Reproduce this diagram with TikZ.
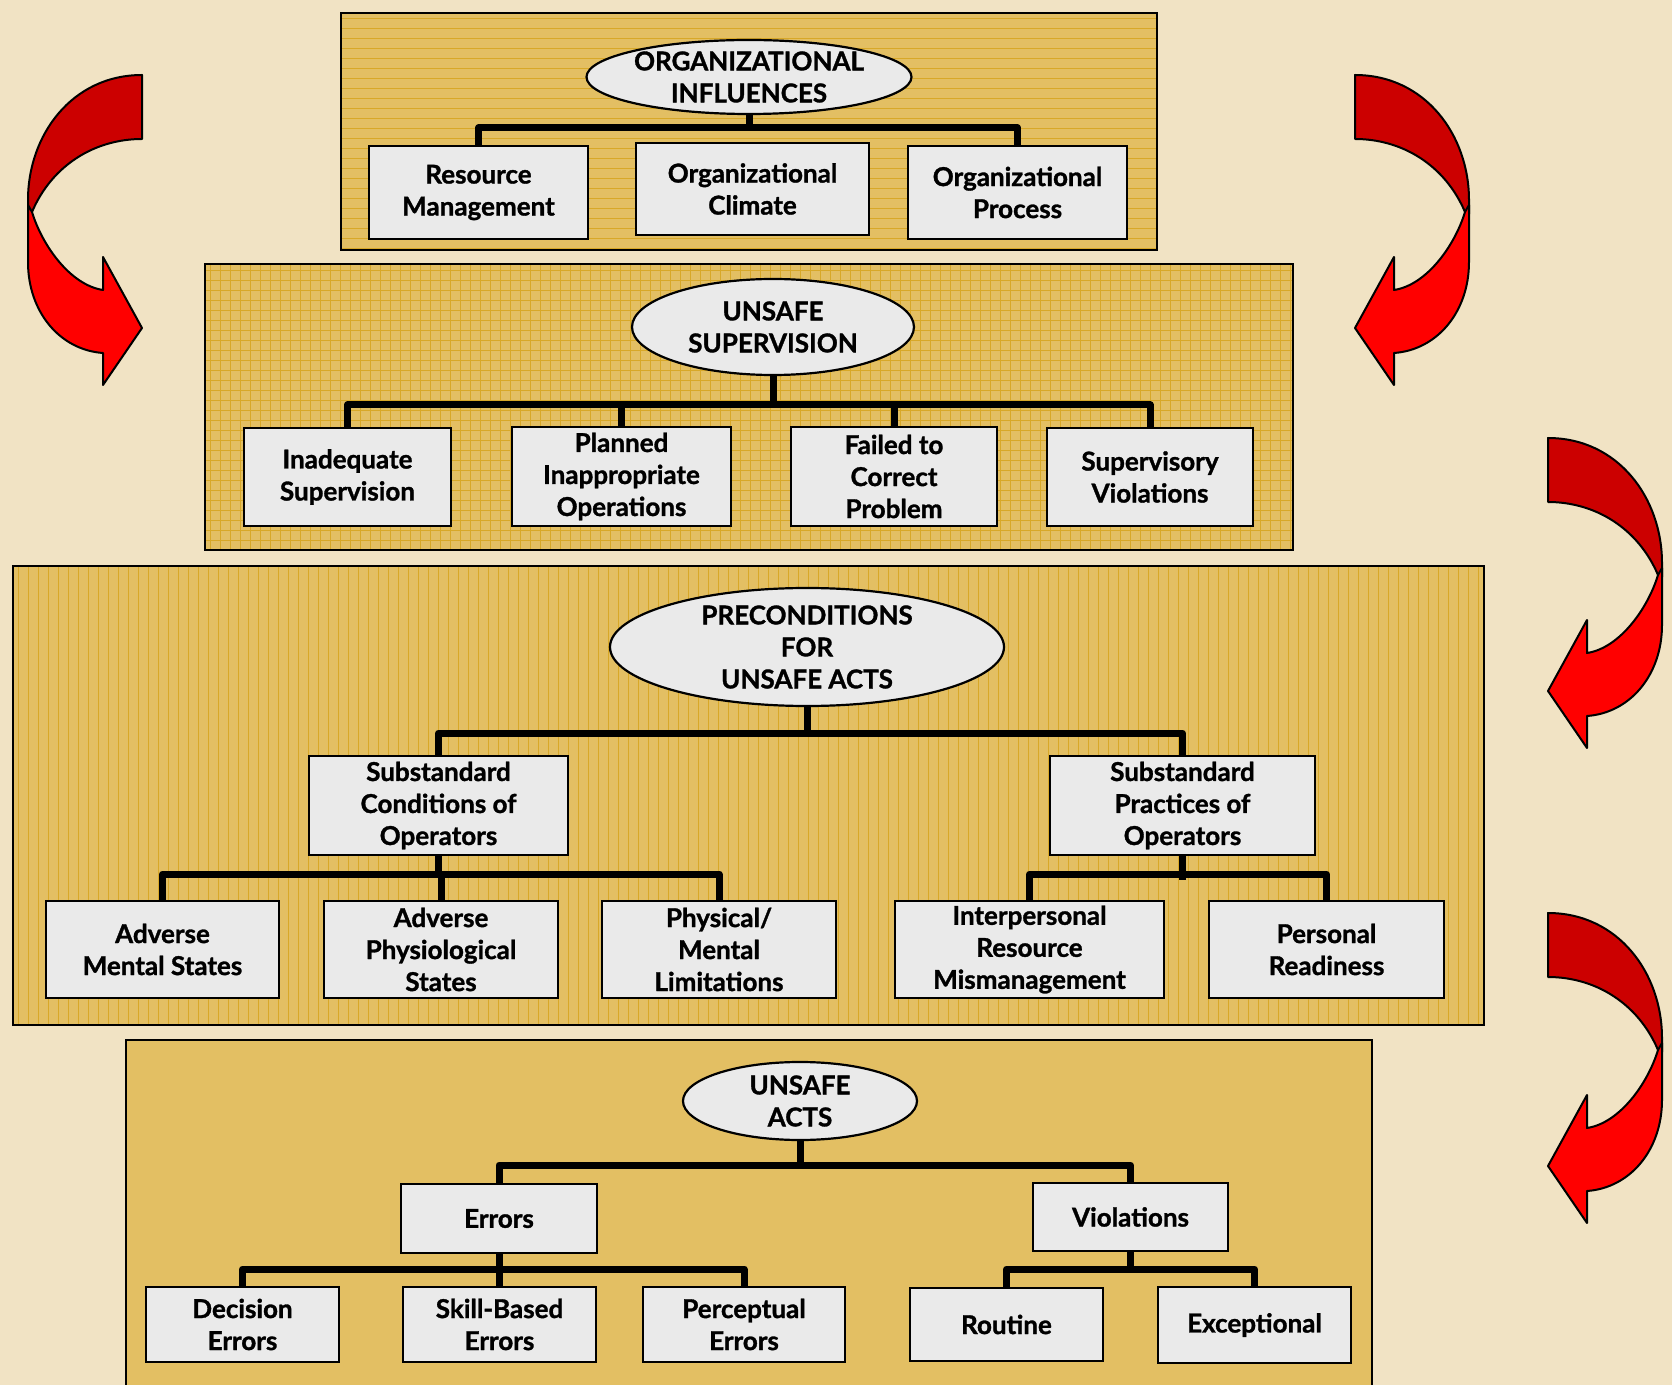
\documentclass[tikz,border=0pt]{standalone}
\usepackage{fontspec}
\setmainfont{Lato}[BoldFeatures={FakeBold=1.2}]
\usetikzlibrary{shapes.geometric,calc}
\definecolor{bgc}{HTML}{F1E3C4}
\definecolor{panelc}{HTML}{E3BF63}
\definecolor{linec}{HTML}{D8A828}
\definecolor{boxc}{HTML}{EAEAEA}
\definecolor{darkred}{HTML}{CC0000}
\definecolor{brightred}{HTML}{FF0000}
\begin{document}
\begin{tikzpicture}[x=0.5pt,y=-0.5pt,
  txt/.style={font=\fontsize{13}{16}\selectfont\bfseries, align=center, text=black},
  box/.style={txt, draw=black, fill=boxc, line width=1.1pt, inner sep=0pt},
  lower/.style={execute at begin node={\rule{0pt}{#1}}},
  oval/.style={txt, ellipse, draw=black, fill=boxc, line width=1.1pt, inner sep=0pt},
  conn/.style={draw=black, line width=3.5pt, line join=round},
  panel/.style={fill=panelc},
  panelborder/.style={draw=black, line width=1pt},
  pat/.style={draw=linec, line width=0.45pt},
  arrowline/.style={draw=black, line width=1pt, line join=round},
  pics/curvearrow/.style={code={
    \fill[darkred, arrowline] (142,75) .. controls (72,75) and (28,135) .. (28,200) -- (28,214) -- (32,212) .. controls (52,165) and (95,139) .. (142,139) -- cycle;
    \fill[brightred, arrowline] (28,205) -- (28,262) .. controls (28,312) and (60,350) .. (103,353) -- (103,385) -- (142,328) -- (103,257) -- (103,290) .. controls (70,285) and (42,245) .. (32,212) -- cycle;
  }}]
\useasboundingbox (0,0) rectangle (1672,1385);
\fill[bgc] (0,0) rectangle (1672,1385);

% ---------- panel 1 ----------
\fill[panel] (341,13) rectangle (1157,250);
\foreach \y in {18,28,...,248} \draw[pat] (341,\y) -- (1157,\y);
\draw[panelborder] (341,13) rectangle (1157,250);

% ---------- panel 2 ----------
\fill[panel] (205,264) rectangle (1293,550);
\foreach \y in {270,280,...,548} \draw[pat] (205,\y) -- (1293,\y);
\foreach \x in {210,220,...,1290} \draw[pat] (\x,264) -- (\x,550);
\draw[panelborder] (205,264) rectangle (1293,550);

% ---------- panel 3 ----------
\fill[panel] (13,566) rectangle (1484,1025);
\foreach \x in {18,28,...,1480} \draw[pat] (\x,566) -- (\x,1025);
\draw[panelborder] (13,566) rectangle (1484,1025);

% ---------- panel 4 ----------
\fill[panel] (126,1040) rectangle (1372,1400);
\draw[panelborder] (126,1400) -- (126,1040) -- (1372,1040) -- (1372,1400);

% ---------- arrows ----------
\pic[transform shape] (arrA) at (0,0) {curvearrow};
\begin{scope}[shift={(1497,0)}, xscale=-1]
  \pic[transform shape] (arrB) at (0,0) {curvearrow};
\end{scope}
\begin{scope}[shift={(1690,363)}, xscale=-1]
  \pic[transform shape] (arrC) at (0,0) {curvearrow};
\end{scope}
\begin{scope}[shift={(1690,838)}, xscale=-1]
  \pic[transform shape] (arrD) at (0,0) {curvearrow};
\end{scope}

% ---------- level 1 ----------
\node[oval, minimum width=157pt, minimum height=37pt] (oi) at (749,77) {ORGANIZATIONAL\\INFLUENCES};
\node[box, lower=20.8pt, minimum width=109.5pt, minimum height=46.5pt] (rm) at (478.5,192.5) {Resource\\Management};
\node[box, lower=20.8pt, minimum width=116.5pt, minimum height=46pt] (oc) at (752.5,189) {Organizational\\Climate};
\node[box, lower=20.8pt, minimum width=109.5pt, minimum height=46.5pt] (op) at (1017.5,192.5) {Organizational\\Process};
\coordinate (b1) at (0,128);
\draw[conn] (oi.south) -- (oi.south |- b1);
\draw[conn] (rm.north) |- (op.north |- b1) -- (op.north);

% ---------- level 2 ----------
\node[oval, minimum width=141pt, minimum height=48pt] (us) at (773,327) {UNSAFE\\SUPERVISION};
\node[box, lower=18.7pt, minimum width=103.5pt, minimum height=49pt] (is) at (347.5,477) {Inadequate\\Supervision};
\node[box, lower=18.7pt, minimum width=109.5pt, minimum height=49.5pt] (pio) at (621.5,476.5) {Planned\\Inappropriate\\Operations};
\node[box, minimum width=103pt, minimum height=49.5pt] (fcp) at (894,476.5) {Failed to\\Correct\\Problem};
\node[box, lower=16.5pt, minimum width=103pt, minimum height=49pt] (sv) at (1150,477) {Supervisory\\Violations};
\coordinate (b2) at (0,405);
\draw[conn] (us.south) -- (us.south |- b2);
\draw[conn] (is.north) |- (sv.north |- b2) -- (sv.north);
\draw[conn] (pio.north) -- (pio.north |- b2);
\draw[conn] (fcp.north) -- (fcp.north |- b2);

% ---------- level 3 ----------
\node[oval, minimum width=197pt, minimum height=59pt] (pua) at (807,647) {PRECONDITIONS\\FOR\\UNSAFE ACTS};
\node[box, lower=17.6pt, minimum width=129.5pt, minimum height=49.5pt] (sco) at (438.5,805.5) {Substandard\\Conditions of\\Operators};
\node[box, lower=17.6pt, minimum width=132.5pt, minimum height=49.5pt] (spo) at (1182.5,805.5) {Substandard\\Practices of\\Operators};
\coordinate (b3) at (0,733);
\draw[conn] (pua.south) -- (pua.south |- b3);
\draw[conn] (sco.north) |- (spo.north |- b3) -- (spo.north);

\node[box, minimum width=116.5pt, minimum height=48.5pt] (ams) at (162.5,949.5) {Adverse\\Mental States};
\node[box, minimum width=117pt, minimum height=48.5pt] (aps) at (441,949.5) {Adverse\\Physiological\\States};
\node[box, minimum width=117pt, minimum height=48.5pt] (pml) at (719,949.5) {Physical/\\Mental\\Limitations};
\node[box, lower=17.6pt, minimum width=134.5pt, minimum height=48.5pt] (irm) at (1029.5,949.5) {Interpersonal\\Resource\\Mismanagement};
\node[box, minimum width=117.5pt, minimum height=48.5pt] (pr) at (1326.5,949.5) {Personal\\Readiness};
\coordinate (b4) at (0,874);
\draw[conn] (sco.south) -- (sco.south |- b4);
\draw[conn] (aps.north) -- (aps.north |- b4);
\draw[conn] (ams.north) |- (pml.north |- b4) -- (pml.north);
\draw[conn] (spo.south) -- ($(spo.south |- b4)+(0,6)$);
\draw[conn] (irm.north) |- (pr.north |- b4) -- (pr.north);

% ---------- level 4 ----------
\node[oval, minimum width=117pt, minimum height=39pt] (ua) at (800,1101) {UNSAFE\\ACTS};
\node[box, minimum width=98pt, minimum height=34.5pt] (err) at (499,1218.5) {Errors};
\node[box, minimum width=97.5pt, minimum height=34pt] (vio) at (1130.5,1217) {Violations};
\coordinate (b5) at (0,1165);
\draw[conn] (ua.south) -- (ua.south |- b5);
\draw[conn] (err.north) |- (vio.north |- b5) -- (vio.north);

\node[box, lower=15.5pt, minimum width=96.5pt, minimum height=37.5pt] (de) at (242.5,1324.5) {Decision\\Errors};
\node[box, lower=15.5pt, minimum width=96.5pt, minimum height=37.5pt] (sbe) at (499.5,1324.5) {Skill-Based\\Errors};
\node[box, lower=15.5pt, minimum width=101pt, minimum height=37.5pt] (pe) at (744,1324.5) {Perceptual\\Errors};
\node[box, minimum width=96.5pt, minimum height=36.5pt] (rt) at (1006.5,1324.5) {Routine};
\node[box, minimum width=96.5pt, minimum height=38pt] (ex) at (1254.5,1325) {Exceptional};
\coordinate (b6) at (0,1269);
\draw[conn] (err.south) -- (err.south |- b6);
\draw[conn] (sbe.north) -- (sbe.north |- b6);
\draw[conn] (de.north) |- (pe.north |- b6) -- (pe.north);
\draw[conn] (vio.south) -- (vio.south |- b6);
\draw[conn] (rt.north) |- (ex.north |- b6) -- (ex.north);
\end{tikzpicture}
\end{document}
